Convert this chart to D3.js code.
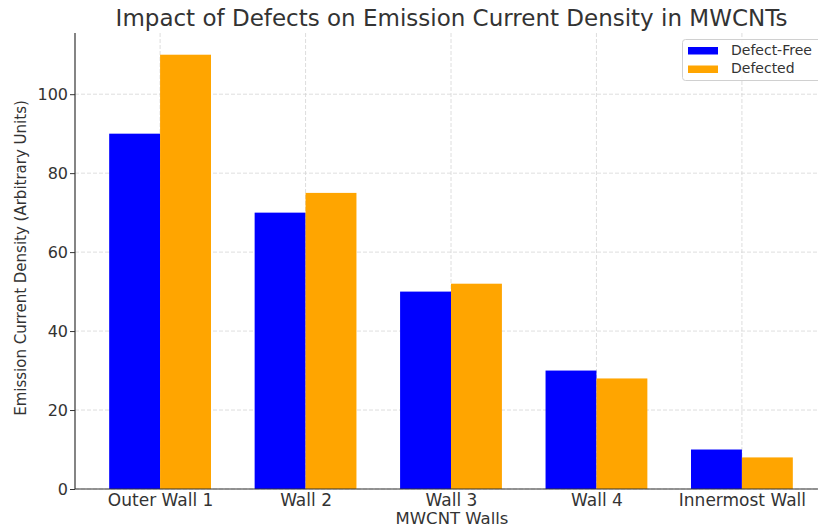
<!DOCTYPE html>
<html><head><meta charset="utf-8">
<script src="https://cdn.jsdelivr.net/npm/d3@7"></script>
<style>body{margin:0;background:#fff}svg{display:block}svg text{font-family:"DejaVu Sans",sans-serif}</style>
</head><body><svg id="c" width="818" height="529"></svg>
<script>
const categories = ["Outer Wall 1","Wall 2","Wall 3","Wall 4","Innermost Wall"];
const defectFree = [90,70,50,30,10];
const defected = [110,75,52,28,8];
const yTicks = [0,20,40,60,80,100];
const seriesNames = ["Defect-Free","Defected"];
const colors = ["#0000ff","#ffa500"];

const svg = d3.select("#c");
const L = 75, R = 827, T = 33, B = 489;
const x = d3.scaleLinear().domain([-0.585, 4.585]).range([L, R]);
const y = d3.scaleLinear().domain([0, 115.5]).range([B, T]);
const bw = 0.35;
const txt = "#333";
const FF = '"DejaVu Sans", sans-serif';

// grid
const g = svg.append("g");
g.selectAll(".hg").data(yTicks).enter().append("line")
  .attr("x1", L).attr("x2", R).attr("y1", d=>y(d)).attr("y2", d=>y(d))
  .attr("stroke", "#d6d6d6").attr("stroke-dasharray", "4,2").attr("stroke-width", 0.8);
g.selectAll(".vg").data(categories).enter().append("line")
  .attr("x1", (d,i)=>x(i)).attr("x2", (d,i)=>x(i)).attr("y1", T).attr("y2", B)
  .attr("stroke", "#d6d6d6").attr("stroke-dasharray", "4,2").attr("stroke-width", 0.8);

// bars
const series = [defectFree, defected];
series.forEach((vals, s) => {
  svg.append("g").selectAll("rect").data(vals).enter().append("rect")
    .attr("x", (d,i)=>x(i + (s===0 ? -bw : 0)))
    .attr("width", x(bw) - x(0))
    .attr("y", d=>y(d)).attr("height", d=>B - y(d))
    .attr("fill", colors[s]);
});

// axes
const yAxis = d3.axisLeft(y).tickValues(yTicks).tickSize(5).tickPadding(2);
const ya = svg.append("g").attr("transform", `translate(${L},0)`).call(yAxis);
ya.attr("font-family", null).attr("font-size", null);
ya.select(".domain").remove();
ya.selectAll(".tick line").attr("stroke", txt);
ya.selectAll("text").attr("fill", txt).style("font-family", FF).style("font-size", "16px");
const xAxis = d3.axisBottom(x).tickValues(d3.range(categories.length)).tickFormat(i=>categories[i]).tickSize(0).tickPadding(5);
const xa = svg.append("g").attr("transform", `translate(0,${B})`).call(xAxis);
xa.attr("font-family", null).attr("font-size", null);
xa.select(".domain").remove();
xa.selectAll("text").attr("fill", txt).style("font-family", FF).style("font-size", "17px");

svg.append("line").attr("x1", L).attr("x2", L).attr("y1", T).attr("y2", B).attr("stroke", txt).attr("stroke-width", 1.2);
svg.append("line").attr("x1", L).attr("x2", R).attr("y1", B).attr("y2", B).attr("stroke", txt).attr("stroke-width", 1.2);

// titles
svg.append("text").attr("x", 451.5).attr("y", 26).attr("text-anchor", "middle")
  .attr("fill", txt).style("font-size", "23px").text("Impact of Defects on Emission Current Density in MWCNTs");
svg.append("text").attr("x", 452).attr("y", 524).attr("text-anchor", "middle")
  .attr("fill", txt).style("font-size", "16.5px").text("MWCNT Walls");
svg.append("text").attr("transform", "translate(26,258) rotate(-90)").attr("text-anchor", "middle")
  .attr("fill", txt).style("font-size", "15px").text("Emission Current Density (Arbitrary Units)");

// legend
const lg = svg.append("g");
lg.append("rect").attr("x", 682.5).attr("y", 39.5).attr("width", 150).attr("height", 41).attr("rx", 3)
  .attr("fill", "#fff").attr("fill-opacity", 0.8).attr("stroke", "#d0d0d0");
seriesNames.forEach((n, i) => {
  lg.append("rect").attr("x", 688).attr("y", 47 + i*18.5).attr("width", 30).attr("height", 7.5).attr("fill", colors[i]);
  lg.append("text").attr("x", 731).attr("y", 55 + i*17.5).attr("fill", txt).style("font-size", "14px").text(n);
});
</script></body></html>
